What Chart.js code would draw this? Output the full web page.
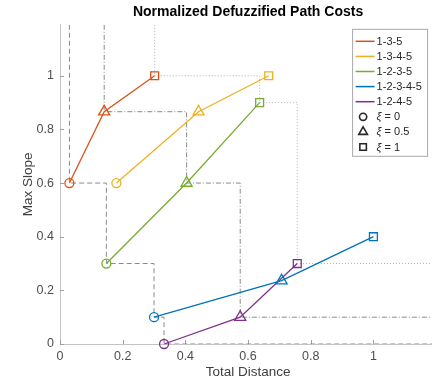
<!DOCTYPE html>
<html><head><meta charset="utf-8">
<script src="https://cdn.jsdelivr.net/npm/chart.js@4.4.1/dist/chart.umd.min.js"></script>
<style>html,body{margin:0;padding:0;background:#fff;overflow:hidden}#wrap{width:432px;height:380px;overflow:hidden;position:relative}canvas{display:block}</style>
</head><body><div id="wrap"><canvas id="c" width="443" height="380"></canvas></div>
<script>
// ---- data ----
const pathNames = ['1-3-5', '1-3-4-5', '1-2-3-5', '1-2-3-4-5', '1-2-4-5'];
const xiLabels = ['0', '0.5', '1'];
const dist135 = [0.03, 0.141, 0.302];     const slope135 = [0.6, 0.866, 1.0];
const dist1345 = [0.18, 0.442, 0.666];    const slope1345 = [0.6, 0.866, 1.0];
const dist1235 = [0.148, 0.404, 0.637];   const slope1235 = [0.3, 0.6, 0.9];
const dist12345 = [0.30, 0.707, 1.0];     const slope12345 = [0.1, 0.236, 0.4];
const dist1245 = [0.332, 0.575, 0.757];   const slope1245 = [0.0, 0.1, 0.3];
const xTicks = [0, 0.2, 0.4, 0.6, 0.8, 1];
const xTickLabels = ['0', '0.2', '0.4', '0.6', '0.8', '1'];
const yTicks = [0, 0.2, 0.4, 0.6, 0.8, 1];
const yTickLabels = ['0', '0.2', '0.4', '0.6', '0.8', '1'];
const xLimits = [0, 1.2];
const yLimits = [0, 1.19];

// ---- styles ----
const FONT = '"Liberation Sans", Arial, Helvetica, sans-serif';
const pathColors = ['#D95319', '#EDB120', '#77AC30', '#0072BD', '#7E2F8E'];
const markerStyles = ['circle', 'triangle', 'rect'];
const markerRadii = [4.5, 6.4, 5.6];
const frontStyles = [
  {color: '#8a8a8a', dash: [5, 3]},
  {color: '#8a8a8a', dash: [5, 2, 1, 2]},
  {color: '#b4b4b4', dash: [1, 2]}
];

const distances = [dist135, dist1345, dist1235, dist12345, dist1245];
const slopes = [slope135, slope1345, slope1235, slope12345, slope1245];

function staircase(k) {
  const pts = distances.map((d, i) => ({x: d[k], y: slopes[i][k]})).sort((a, b) => a.x - b.x);
  const front = []; let best = Infinity;
  for (const p of pts) { if (p.y < best) { front.push(p); best = p.y; } }
  const out = [{x: front[0].x, y: yLimits[1]}];
  front.forEach((p, j) => {
    out.push({x: p.x, y: p.y});
    const nx = j < front.length - 1 ? front[j + 1].x : xLimits[1];
    out.push({x: nx, y: p.y});
  });
  return out;
}

const datasets = [];
pathNames.forEach((name, i) => {
  datasets.push({
    label: name,
    data: distances[i].map((d, k) => ({x: d, y: slopes[i][k]})),
    borderColor: pathColors[i],
    backgroundColor: 'rgba(0,0,0,0)',
    borderWidth: 1.3,
    pointStyle: markerStyles,
    pointRadius: markerRadii,
    pointBorderWidth: 1.3,
    pointBorderColor: pathColors[i],
    pointBackgroundColor: 'rgba(0,0,0,0)',
    tension: 0, fill: false, clip: false
  });
});
xiLabels.forEach((xi, k) => {
  datasets.push({
    label: 'front ξ=' + xi,
    data: staircase(k),
    borderColor: frontStyles[k].color,
    borderDash: frontStyles[k].dash,
    borderWidth: 1,
    pointRadius: 0,
    tension: 0, fill: false
  });
});

const decor = {
  id: 'decor',
  beforeDatasetsDraw(chart) {
    const {ctx, chartArea: a, scales: {x, y}} = chart;
    ctx.save();
    ctx.strokeStyle = '#a0a0a0'; ctx.lineWidth = 1;
    ctx.beginPath();
    xTicks.forEach(v => { const px = Math.round(x.getPixelForValue(v)) + 0.5; ctx.moveTo(px, a.bottom); ctx.lineTo(px, a.bottom - 4); });
    yTicks.forEach(v => { const py = Math.round(y.getPixelForValue(v)) + 0.5; ctx.moveTo(a.left, py); ctx.lineTo(a.left + 4, py); });
    ctx.stroke();
    ctx.restore();
  },
  afterDraw(chart) {
    const {ctx, chartArea: a} = chart;
    ctx.save();
    const bx = a.right - 83.5, by = a.top + 4.5, bw = 75, bh = 127;
    ctx.fillStyle = '#fff'; ctx.fillRect(bx, by, bw, bh);
    ctx.strokeStyle = '#a8a8a8'; ctx.lineWidth = 1; ctx.strokeRect(bx, by, bw, bh);
    const rowH = 15.1, y0 = by + 12;
    ctx.textBaseline = 'middle';
    pathNames.forEach((name, i) => {
      const yy = y0 + i * rowH;
      ctx.strokeStyle = pathColors[i]; ctx.lineWidth = 1.5;
      ctx.beginPath(); ctx.moveTo(bx + 3, yy); ctx.lineTo(bx + 22, yy); ctx.stroke();
      ctx.font = '11px ' + FONT; ctx.fillStyle = '#262626';
      ctx.fillText(name, bx + 24, yy + 0.5);
    });
    xiLabels.forEach((xi, k) => {
      const yy = y0 + (pathNames.length + k) * rowH;
      ctx.fillStyle = 'rgba(0,0,0,0)';
      ctx.strokeStyle = '#262626'; ctx.lineWidth = 1.6;
      Chart.helpers.drawPoint(ctx, {pointStyle: markerStyles[k], radius: [3.6, 5.0, 4.6][k], borderWidth: 1.6, rotation: 0}, bx + 10.5, yy);
      ctx.fillStyle = '#262626';
      ctx.font = 'italic 11px ' + FONT;
      const tx = bx + 24;
      ctx.fillText('ξ', tx, yy + 0.5);
      const w = ctx.measureText('ξ').width;
      ctx.font = '11px ' + FONT;
      ctx.fillText(' = ' + xi, tx + w, yy + 0.5);
    });
    ctx.restore();
  }
};

new Chart(document.getElementById('c'), {
  type: 'line',
  data: {datasets},
  plugins: [decor],
  options: {
    responsive: false, animation: false, events: [], devicePixelRatio: 1,
    layout: {padding: 0},
    plugins: {
      legend: {display: false}, tooltip: {enabled: false},
      title: {display: true, text: 'Normalized Defuzzified Path Costs', fullSize: false, color: '#000',
              font: {family: FONT, size: 14, weight: 'bold'}, padding: {top: 4, bottom: 4}}
    },
    scales: {
      x: {
        type: 'linear', min: xLimits[0], max: xLimits[1],
        afterBuildTicks: s => { s.ticks = xTicks.map(v => ({value: v})); },
        afterFit: s => { s.height = 36; },
        ticks: {callback: (v, i) => xTickLabels[i], color: '#4d4d4d', font: {family: FONT, size: 12.5}, padding: 5, maxRotation: 0, autoSkip: false},
        grid: {display: false, drawTicks: false},
        border: {display: true, color: '#c4c4c4', width: 1},
        title: {display: true, text: 'Total Distance', color: '#404040', font: {family: FONT, size: 13.5}, padding: {top: 0, bottom: 0}}
      },
      y: {
        type: 'linear', min: yLimits[0], max: yLimits[1],
        afterBuildTicks: s => { s.ticks = yTicks.map(v => ({value: v})); },
        afterFit: s => { s.width = 60; },
        ticks: {callback: (v, i) => yTickLabels[i], color: '#4d4d4d', font: {family: FONT, size: 12.5}, padding: 6, autoSkip: false},
        grid: {display: false, drawTicks: false},
        border: {display: true, color: '#c4c4c4', width: 1},
        title: {display: true, text: 'Max Slope', color: '#404040', font: {family: FONT, size: 13.5}, padding: {top: 20, bottom: 0}}
      }
    }
  }
});
</script></body></html>
